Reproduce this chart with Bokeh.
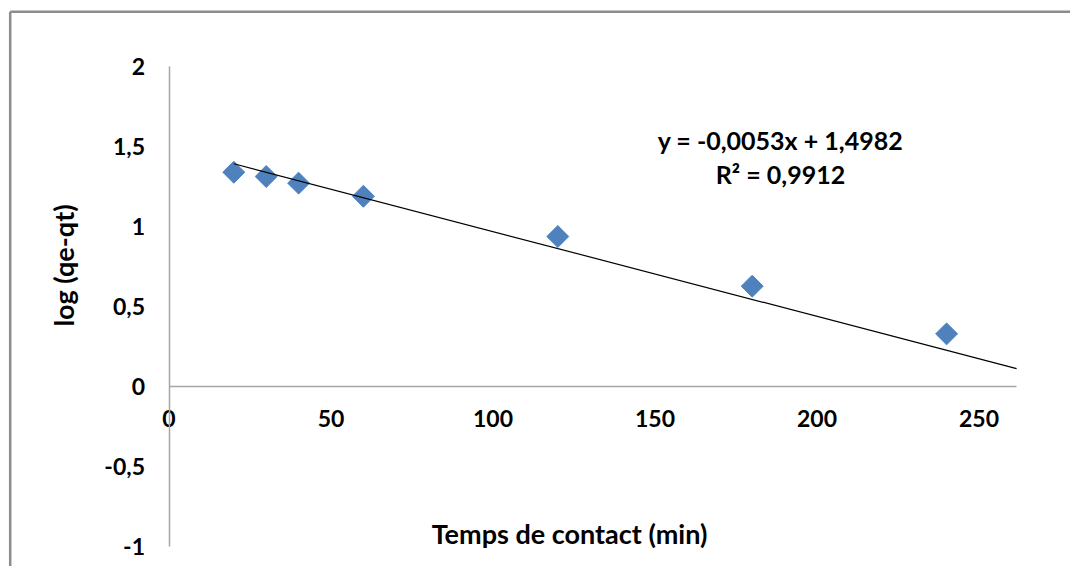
import math
from bokeh.plotting import figure
from bokeh.models import Range1d, FixedTicker, Label, LinearAxis
from bokeh.embed import file_html
from bokeh.resources import INLINE

# ---- data ----
time_min = [20, 30, 40, 60, 120, 180, 240]
log_qe_qt = [1.339, 1.3125, 1.271, 1.189, 0.9375, 0.627, 0.329]
trend_slope = -0.0053
trend_intercept = 1.4982
trend_x = [20, 261.6]
x_ticks = [0, 50, 100, 150, 200, 250]
x_tick_labels = ["0", "50", "100", "150", "200", "250"]
y_ticks = [-1.0, -0.5, 0.0, 0.5, 1.0, 1.5, 2.0]
y_tick_labels = ["-1", "-0,5", "0", "0,5", "1", "1,5", "2"]
equation_text = "y = -0,0053x + 1,4982"
r2_text = "R\u00b2 = 0,9912"
x_title = "Temps de contact (min)"
y_title = "log (qe-qt)"

# ---- layout (page pixels -> data) ----
W, H = 1070, 566
X0_PX, Y0_PX = 168.5, 386.0
PX_PER_X, PX_PER_Y = 3.24, 160.0


def dx(px):
    return (px - X0_PX) / PX_PER_X


def dy(py):
    return (Y0_PX - py) / PX_PER_Y


FONT = "Lato"

p = figure(width=W, height=H, output_backend="svg", toolbar_location=None,
           x_range=Range1d(dx(0), dx(W)),
           y_range=Range1d(dy(H), dy(0)),
           x_axis_location=None, y_axis_location=None, min_border=0)
p.outline_line_color = None
p.background_fill_color = "white"
p.border_fill_color = "white"
p.xgrid.visible = False
p.ygrid.visible = False


def style_axis(ax):
    ax.axis_line_color = "#a6a6a6"
    ax.axis_line_width = 1.5
    ax.major_tick_in = 0
    ax.major_tick_out = 0
    ax.minor_tick_in = 0
    ax.minor_tick_out = 0
    ax.major_label_text_font = FONT
    ax.major_label_text_font_style = "bold"
    ax.major_label_text_font_size = "23px"
    ax.major_label_text_color = "black"


xaxis = LinearAxis(fixed_location=0, bounds=(0, trend_x[1]),
                   ticker=FixedTicker(ticks=x_ticks),
                   major_label_overrides={float(t): l for t, l in zip(x_ticks, x_tick_labels)})
style_axis(xaxis)
xaxis.major_label_standoff = 23
p.add_layout(xaxis, "below")

yaxis = LinearAxis(fixed_location=0, bounds=(-1, 2),
                   ticker=FixedTicker(ticks=y_ticks),
                   major_label_overrides={float(t): l for t, l in zip(y_ticks, y_tick_labels)})
style_axis(yaxis)
yaxis.major_label_standoff = 24
p.add_layout(yaxis, "left")

# chart-area border (left & top edges; the rest lies outside the window)
bx, by = dx(9.7), dy(11.3)
p.segment(x0=[bx, bx], y0=[by, by], x1=[bx, dx(W + 50)], y1=[dy(H + 50), by],
          line_color="#8c8c8c", line_width=2.5)

# data points
p.scatter(time_min, log_qe_qt, marker="square", size=15.5, angle=math.pi / 4,
          fill_color="#4F81BD", line_color="#4F81BD")

# trendline
p.line(trend_x, [trend_intercept + trend_slope * x for x in trend_x],
       line_color="black", line_width=1.2)

# texts
common = dict(text_font=FONT, text_font_style="bold", text_color="black",
              text_align="center", text_baseline="middle")
p.add_layout(Label(x=dx(780), y=dy(139), text=equation_text, text_font_size="25px", **common))
p.add_layout(Label(x=dx(780), y=dy(173), text=r2_text, text_font_size="25px", **common))
p.add_layout(Label(x=dx(569), y=dy(533), text=x_title, text_font_size="27px", **common))
p.add_layout(Label(x=dx(63), y=dy(265), text=y_title, angle=math.pi / 2,
                   text_font_size="27px", **common))

open("out.html", "w").write(file_html(p, INLINE))
